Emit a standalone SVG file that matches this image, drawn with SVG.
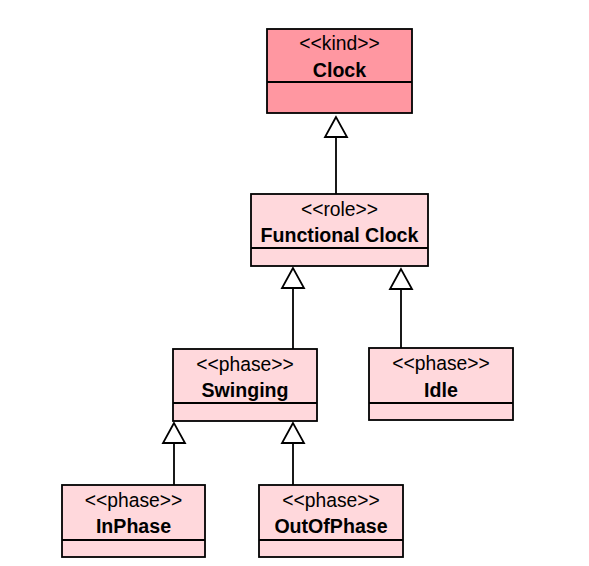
<svg xmlns="http://www.w3.org/2000/svg" width="589" height="566" viewBox="0 0 589 566">
<style>
.box{stroke:#000;stroke-width:1.8}
.kind{fill:#FF97A1}
.ph{fill:#FFD8DC}
.div{stroke:#000;stroke-width:1.8}
.st{font-family:"Liberation Sans",Arial,sans-serif;font-size:19.3px;text-anchor:middle;fill:#000}
.nm{font-family:"Liberation Sans",Arial,sans-serif;font-size:19.6px;font-weight:bold;text-anchor:middle;fill:#000}
.ln{stroke:#000;stroke-width:1.8;fill:none}
.tri{fill:#fff;stroke:#000;stroke-width:1.8}
</style>
<rect width="589" height="566" fill="#fff"/>
<g id="connectors">
<line class="ln" x1="336" y1="137" x2="336" y2="194"/>
<polygon class="tri" points="336,117 325,137 347,137"/>
<line class="ln" x1="293" y1="288" x2="293" y2="349"/>
<polygon class="tri" points="293,268 282,288 304,288"/>
<line class="ln" x1="401" y1="289" x2="401" y2="348"/>
<polygon class="tri" points="401,269 390,289 412,289"/>
<line class="ln" x1="174" y1="443" x2="174" y2="485"/>
<polygon class="tri" points="174,423 163,443 185,443"/>
<line class="ln" x1="293" y1="443" x2="293" y2="485"/>
<polygon class="tri" points="293,423 282,443 304,443"/>
</g>
<g id="clock">
<rect class="box kind" x="267" y="29" width="145" height="84"/>
<line class="div" x1="267" y1="82" x2="412" y2="82"/>
<text class="st" x="339.5" y="50">&lt;&lt;kind&gt;&gt;</text>
<text class="nm" x="339.5" y="77">Clock</text>
</g>
<g id="functional-clock">
<rect class="box ph" x="251" y="194" width="177" height="72"/>
<line class="div" x1="251" y1="248" x2="428" y2="248"/>
<text class="st" x="339.5" y="216">&lt;&lt;role&gt;&gt;</text>
<text class="nm" x="339.5" y="242">Functional Clock</text>
</g>
<g id="swinging">
<rect class="box ph" x="173" y="349" width="144" height="72"/>
<line class="div" x1="173" y1="403" x2="317" y2="403"/>
<text class="st" x="245" y="371">&lt;&lt;phase&gt;&gt;</text>
<text class="nm" x="245" y="397">Swinging</text>
</g>
<g id="idle">
<rect class="box ph" x="369" y="348" width="144" height="72"/>
<line class="div" x1="369" y1="403" x2="513" y2="403"/>
<text class="st" x="441" y="370">&lt;&lt;phase&gt;&gt;</text>
<text class="nm" x="441" y="397">Idle</text>
</g>
<g id="inphase">
<rect class="box ph" x="62" y="485" width="143" height="72"/>
<line class="div" x1="62" y1="540" x2="205" y2="540"/>
<text class="st" x="133.5" y="507">&lt;&lt;phase&gt;&gt;</text>
<text class="nm" x="133.5" y="533">InPhase</text>
</g>
<g id="outofphase">
<rect class="box ph" x="259" y="485" width="144" height="72"/>
<line class="div" x1="259" y1="540" x2="403" y2="540"/>
<text class="st" x="331" y="507">&lt;&lt;phase&gt;&gt;</text>
<text class="nm" x="331" y="533">OutOfPhase</text>
</g>
</svg>
